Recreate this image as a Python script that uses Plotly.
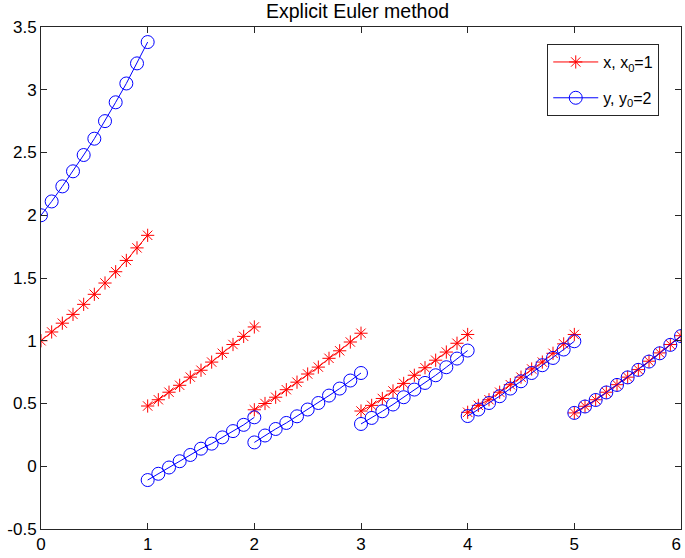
import plotly.graph_objects as go

# time points per segment
t_segments = [
    [0.0, 0.1, 0.2, 0.3, 0.4, 0.5, 0.6, 0.7, 0.8, 0.9, 1.0],
    [1.0, 1.1, 1.2, 1.3, 1.4, 1.5, 1.6, 1.7, 1.8, 1.9, 2.0],
    [2.0, 2.1, 2.2, 2.3, 2.4, 2.5, 2.6, 2.7, 2.8, 2.9, 3.0],
    [3.0, 3.1, 3.2, 3.3, 3.4, 3.5, 3.6, 3.7, 3.8, 3.9, 4.0],
    [4.0, 4.1, 4.2, 4.3, 4.4, 4.5, 4.6, 4.7, 4.8, 4.9, 5.0],
    [5.0, 5.1, 5.2, 5.3, 5.4, 5.5, 5.6, 5.7, 5.8, 5.9, 6.0],
]

x_segments = [
    [1.00, 1.07, 1.14, 1.21, 1.29, 1.37, 1.46, 1.55, 1.64, 1.74, 1.84],
    [0.48, 0.53, 0.59, 0.645, 0.71, 0.765, 0.83, 0.90, 0.97, 1.035, 1.11],
    [0.45, 0.50, 0.55, 0.61, 0.67, 0.735, 0.79, 0.86, 0.92, 0.99, 1.06],
    [0.44, 0.485, 0.54, 0.60, 0.66, 0.725, 0.785, 0.845, 0.91, 0.98, 1.05],
    [0.43, 0.485, 0.53, 0.59, 0.65, 0.71, 0.775, 0.83, 0.90, 0.975, 1.05],
    [0.425, 0.478, 0.53, 0.59, 0.65, 0.71, 0.77, 0.837, 0.903, 0.97, 1.04],
]

y_segments = [
    [2.00, 2.11, 2.23, 2.35, 2.48, 2.61, 2.75, 2.90, 3.05, 3.21, 3.38],
    [-0.11, -0.06, -0.01, 0.04, 0.09, 0.14, 0.18, 0.23, 0.28, 0.33, 0.39],
    [0.19, 0.245, 0.297, 0.345, 0.398, 0.452, 0.504, 0.563, 0.619, 0.683, 0.743],
    [0.337, 0.385, 0.438, 0.492, 0.55, 0.611, 0.664, 0.725, 0.789, 0.858, 0.922],
    [0.40, 0.452, 0.504, 0.558, 0.619, 0.677, 0.743, 0.805, 0.863, 0.93, 0.996],
    [0.425, 0.476, 0.528, 0.588, 0.648, 0.708, 0.768, 0.834, 0.90, 0.967, 1.037],
]

x_ticks = [0, 1, 2, 3, 4, 5, 6]
x_ticklabels = ["0", "1", "2", "3", "4", "5", "6\u00a0\u00a0"]
y_ticks = [-0.5, 0, 0.5, 1, 1.5, 2, 2.5, 3, 3.5]
y_ticklabels = ["-0.5", "0", "0.5", "1", "1.5", "2", "2.5", "3", "3.5"]


def join(segs):
    out = []
    for i, s in enumerate(segs):
        if i > 0:
            out.append(None)
        out.extend(s)
    return out


t_all = join(t_segments)
x_all = join(x_segments)
y_all = join(y_segments)

FONT = "Liberation Sans, Arial, Helvetica, sans-serif"
AXC = "#262626"

fig = go.Figure()
fig.add_trace(go.Scatter(
    x=t_all, y=x_all, mode="lines+markers", name="x, x<sub>0</sub>=1",
    legendgroup="a",
    line=dict(color="#ff0000", width=1),
    marker=dict(symbol="asterisk-open", size=11, color="#ff0000",
                line=dict(color="#ff0000", width=1)),
    connectgaps=False,
))
fig.add_trace(go.Scatter(
    x=t_all, y=y_all, mode="lines+markers", name="y, y<sub>0</sub>=2",
    legendgroup="b",
    line=dict(color="#0000ff", width=1),
    marker=dict(symbol="circle-open", size=13, color="#0000ff",
                line=dict(color="#0000ff", width=1)),
    connectgaps=False,
))

axis_common = dict(
    showgrid=False, zeroline=False, showline=True, linecolor=AXC, linewidth=1,
    mirror="ticks", ticks="inside", ticklen=6, tickcolor=AXC, tickwidth=1,
    tickfont=dict(family=FONT, size=17, color="#000000"),
    ticklabeloverflow="allow", automargin=False,
)

fig.update_layout(
    width=685, height=558,
    paper_bgcolor="white", plot_bgcolor="white",
    margin=dict(l=41, r=4, t=27, b=29, autoexpand=False),
    title=dict(text="Explicit Euler method", x=0.522, xanchor="center",
               y=0.980, yanchor="middle", yref="container",
               font=dict(family=FONT, size=19.5, color="#000000")),
    xaxis=dict(range=[0, 6], tickvals=x_ticks, ticktext=x_ticklabels, **axis_common),
    yaxis=dict(range=[-0.5, 3.5], tickvals=y_ticks, ticktext=y_ticklabels, **axis_common),
    legend=dict(x=0.966, y=0.966, xanchor="right", yanchor="top",
                bgcolor="white", bordercolor=AXC, borderwidth=1,
                font=dict(family=FONT, size=16, color="#000000"),
                traceorder="grouped", tracegroupgap=12, itemwidth=45),
    showlegend=True,
)

fig.write_html("out.html", config={"displayModeBar": False},
               post_script="document.body.style.margin='0';document.body.style.overflow='hidden';")
